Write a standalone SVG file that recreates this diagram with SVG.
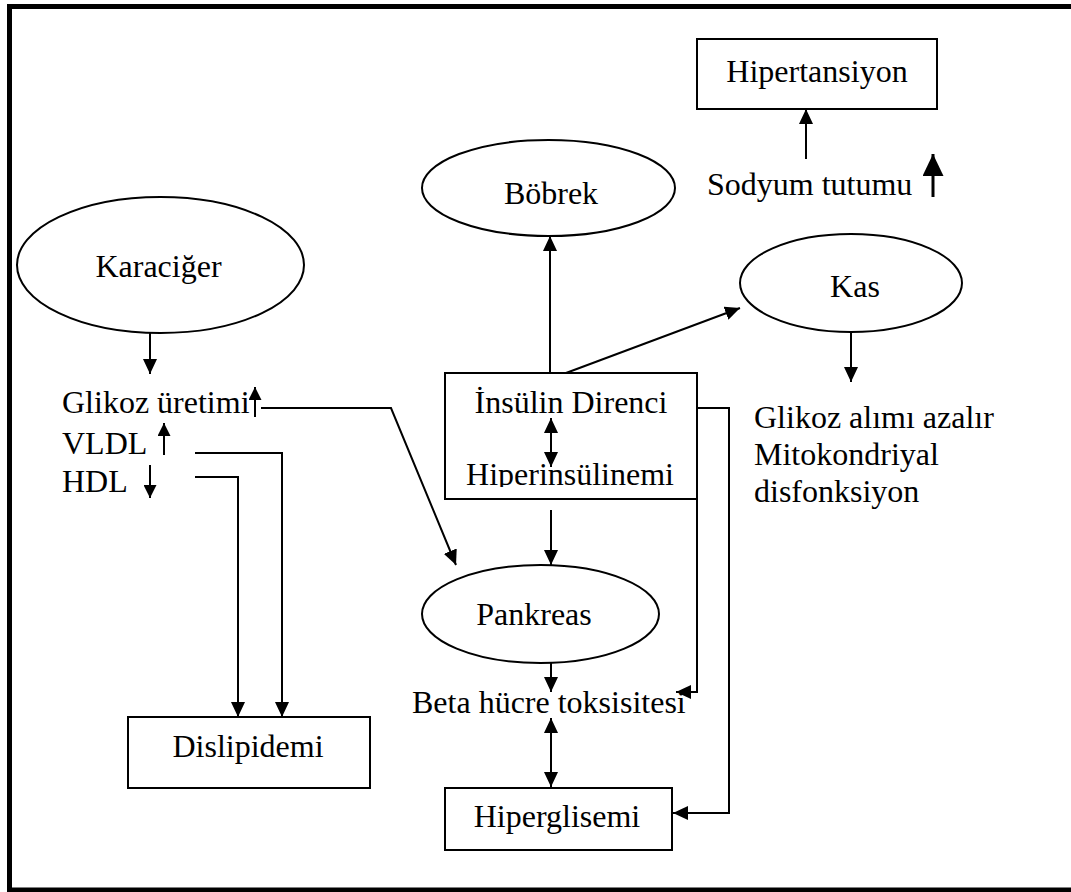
<svg xmlns="http://www.w3.org/2000/svg" width="1071" height="892" viewBox="0 0 1071 892">
<style>
.t{font-family:"Liberation Serif","Times New Roman",serif;font-size:32px;fill:#000}
.m{text-anchor:middle}
.s{fill:#fff;stroke:#000;stroke-width:2}
.c{fill:none;stroke:#000;stroke-width:2}
</style>
<defs>
<marker id="a" viewBox="0 0 15 14" refX="15" refY="7" markerWidth="15" markerHeight="14" markerUnits="userSpaceOnUse" orient="auto-start-reverse"><path d="M0,0L15,7L0,14z"/></marker>
<marker id="sm" viewBox="0 0 13 13" refX="13" refY="6.5" markerWidth="13" markerHeight="13" markerUnits="userSpaceOnUse" orient="auto"><path d="M0,0L13,6.5L0,13z"/></marker>
<marker id="bg" viewBox="0 0 22 21" refX="22" refY="10.5" markerWidth="22" markerHeight="21" markerUnits="userSpaceOnUse" orient="auto"><path d="M0,0L22,10.5L0,21z"/></marker>
<clipPath id="clipH"><rect x="445" y="373" width="252" height="114"/></clipPath>
</defs>
<rect width="1071" height="892" fill="#fff"/>
<path d="M1071,6.5H9.5V890H1071" fill="none" stroke="#000" stroke-width="5"/>

<g id="hipertansiyon">
<rect class="s" x="697" y="39" width="240" height="70"/>
<text class="t m" x="817" y="82">Hipertansiyon</text>
</g>
<g id="sodyum">
<text class="t" x="707" y="195">Sodyum tutumu</text>
<line x1="933" y1="197" x2="933" y2="154" stroke="#000" stroke-width="3" marker-end="url(#bg)"/>
</g>
<g id="bobrek">
<ellipse class="s" cx="548.5" cy="188" rx="126.5" ry="48"/>
<text class="t m" x="551" y="204">Böbrek</text>
</g>
<g id="karaciger">
<ellipse class="s" cx="160.5" cy="265" rx="143.5" ry="68"/>
<text class="t m" x="158.5" y="277">Karaciğer</text>
</g>
<g id="kas">
<ellipse class="s" cx="851" cy="283" rx="111" ry="49"/>
<text class="t m" x="855" y="297">Kas</text>
</g>
<g id="karaciger-etki">
<text class="t" x="62" y="413">Glikoz üretimi</text>
<line x1="255" y1="417" x2="255" y2="387" stroke="#000" stroke-width="2" marker-end="url(#sm)"/>
<text class="t" x="62" y="454">VLDL</text>
<line x1="164" y1="455" x2="164" y2="423" stroke="#000" stroke-width="2" marker-end="url(#sm)"/>
<text class="t" x="62" y="492">HDL</text>
<line x1="150" y1="465" x2="150" y2="498" stroke="#000" stroke-width="2" marker-end="url(#sm)"/>
</g>
<g id="insulin">
<rect class="s" x="445" y="373" width="252" height="126"/>
<text class="t m" x="571" y="413">İnsülin Direnci</text>
<text class="t m" x="570" y="485" clip-path="url(#clipH)">Hiperinsülinemi</text>
<line class="c" x1="551" y1="418" x2="551" y2="467" marker-start="url(#a)" marker-end="url(#a)"/>
</g>
<g id="kas-etki">
<text class="t" x="754" y="428">Glikoz alımı azalır</text>
<text class="t" x="754" y="465">Mitokondriyal</text>
<text class="t" x="754" y="502">disfonksiyon</text>
</g>
<g id="pankreas">
<ellipse class="s" cx="540.5" cy="614" rx="118.5" ry="49"/>
<text class="t m" x="534" y="625">Pankreas</text>
</g>
<g id="beta">
<text class="t" x="412" y="713">Beta hücre toksisitesi</text>
</g>
<g id="dislipidemi">
<rect class="s" x="128" y="717" width="242" height="71"/>
<text class="t m" x="248" y="757">Dislipidemi</text>
</g>
<g id="hiperglisemi">
<rect class="s" x="445" y="788" width="227" height="62"/>
<text class="t m" x="557" y="827">Hiperglisemi</text>
</g>

<g id="connectors">
<line class="c" x1="806" y1="159" x2="806" y2="109" marker-end="url(#a)"/>
<line class="c" x1="550" y1="373" x2="550" y2="236" marker-end="url(#a)"/>
<line class="c" x1="566" y1="373" x2="740" y2="308" marker-end="url(#a)"/>
<line class="c" x1="150" y1="333" x2="150" y2="374" marker-end="url(#a)"/>
<line class="c" x1="851" y1="332" x2="851" y2="382" marker-end="url(#a)"/>
<polyline class="c" points="261,408 391,408 456,565" marker-end="url(#a)"/>
<polyline class="c" points="195,453 282,453 282,717" marker-end="url(#a)"/>
<polyline class="c" points="195,477 238,477 238,717" marker-end="url(#a)"/>
<line class="c" x1="551" y1="510" x2="551" y2="565" marker-end="url(#a)"/>
<line class="c" x1="551" y1="663" x2="551" y2="692" marker-end="url(#a)"/>
<polyline class="c" points="697,499 697,692 676,692" marker-end="url(#a)"/>
<polyline class="c" points="697,408 729,408 729,813 673,813" marker-end="url(#a)"/>
<line class="c" x1="551" y1="718" x2="551" y2="787" marker-start="url(#a)" marker-end="url(#a)"/>
</g>
</svg>
